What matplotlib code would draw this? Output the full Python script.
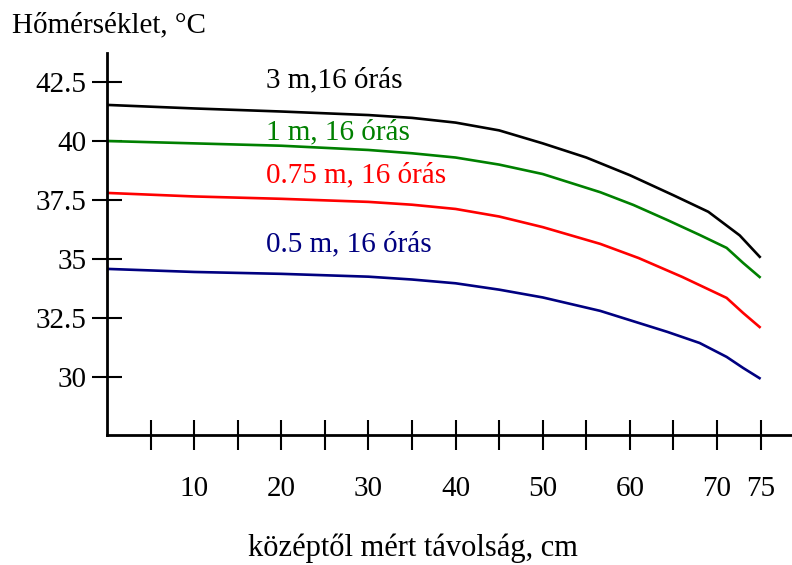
import matplotlib
matplotlib.use("Agg")
import matplotlib.pyplot as plt

plt.rcParams['font.family'] = ['Liberation Serif', 'DejaVu Serif']

x_black = [0, 10, 20, 30, 35, 40, 45, 50, 55, 60, 65, 69, 72.6, 75]
y_black = [41.53, 41.38, 41.25, 41.1, 40.98, 40.78, 40.45, 39.9, 39.3, 38.55, 37.7, 37.0, 36.0, 35.05]

x_green = [0, 10, 20, 30, 35, 40, 45, 50, 56.6, 60.4, 64.3, 68, 71.1, 73, 75]
y_green = [40.0, 39.9, 39.8, 39.62, 39.48, 39.3, 39.0, 38.6, 37.83, 37.29, 36.65, 36.02, 35.47, 34.83, 34.2]

x_red = [0, 10, 20, 30, 35, 40, 45, 50, 56.6, 61, 66, 71.1, 73, 75]
y_red = [37.8, 37.65, 37.55, 37.42, 37.3, 37.12, 36.8, 36.35, 35.64, 35.04, 34.24, 33.35, 32.71, 32.08]

x_blue = [0, 10, 20, 30, 35, 40, 45, 50, 56.6, 64.3, 68, 71.1, 73, 75]
y_blue = [34.58, 34.45, 34.37, 34.25, 34.13, 33.97, 33.7, 33.37, 32.8, 31.91, 31.44, 30.85, 30.38, 29.92]

series_labels = ["3 m,16 órás", "1 m, 16 órás", "0.75 m, 16 órás", "0.5 m, 16 órás"]
series_colors = ["black", "#008000", "#ff0000", "#000080"]
label_pos_y = [42.58, 40.38, 38.56, 35.64]

x_ticks = [5, 10, 15, 20, 25, 30, 35, 40, 45, 50, 55, 60, 65, 70, 75]
x_ticklabels = ["", "10", "", "20", "", "30", "", "40", "", "50", "", "60", "", "70", "75"]
y_ticks = [30, 32.5, 35, 37.5, 40, 42.5]
y_ticklabels = ["30", "32.5", "35", "37.5", "40", "42.5"]

fig = plt.figure(figsize=(7.92, 5.65), dpi=100)
ax = fig.add_axes([107/792, 1 - 435/565, 1 - 107/792, (435 - 53)/565])

for xs, ys, c in zip([x_black, x_green, x_red, x_blue],
                     [y_black, y_green, y_red, y_blue], series_colors):
    ax.plot(xs, ys, color=c, lw=1.9, solid_capstyle='butt', solid_joinstyle='round')

for lab, c, yy in zip(series_labels, series_colors, label_pos_y):
    ax.text(18.2, yy, lab, color=c, fontsize=21, va='center', ha='left')

ax.set_xlim(0, 78.6)
ax.set_ylim(27.54, 43.73)
ax.set_xticks(x_ticks)
ax.set_xticklabels(x_ticklabels)
ax.set_yticks(y_ticks)
ax.set_yticklabels(y_ticklabels)
ax.tick_params(axis='both', direction='inout', length=21, width=1.5, labelsize=21)
ax.tick_params(axis='x', pad=19)
ax.tick_params(axis='y', pad=4)
for s in ['top', 'right']:
    ax.spines[s].set_visible(False)
for s in ['left', 'bottom']:
    ax.spines[s].set_linewidth(2)

fig.text(12/792, 1 - 25/565, "Hőmérséklet, °C", fontsize=21, va='center', ha='left')
fig.text(413/792, 1 - 548/565, "középtől mért távolság, cm", fontsize=22, va='center', ha='center')

fig.savefig("out.png", dpi=100)
